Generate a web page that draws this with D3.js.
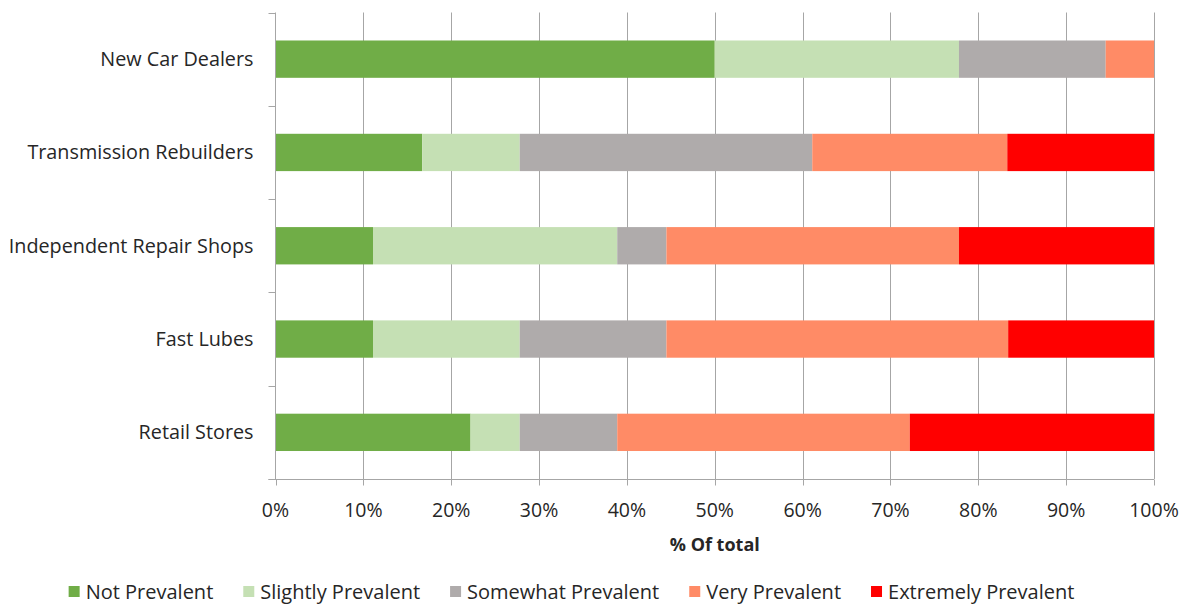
<!DOCTYPE html>
<html><head><meta charset="utf-8">
<script src="https://cdn.jsdelivr.net/npm/d3@7"></script>
<style>body{margin:0;background:#fff;} text{font-family:"Open Sans","Noto Sans",sans-serif;fill:#262626;}</style>
</head><body><svg id="c" width="1188" height="604"></svg>
<script>
const categories = ["New Car Dealers","Transmission Rebuilders","Independent Repair Shops","Fast Lubes","Retail Stores"];
const seriesNames = ["Not Prevalent","Slightly Prevalent","Somewhat Prevalent","Very Prevalent","Extremely Prevalent"];
const notPrevalent = [50.0, 16.7, 11.1, 11.1, 22.2];
const slightlyPrevalent = [27.8, 11.1, 27.8, 16.7, 5.6];
const somewhatPrevalent = [16.7, 33.3, 5.6, 16.7, 11.1];
const veryPrevalent = [5.5, 22.2, 33.3, 38.9, 33.3];
const extremelyPrevalent = [0, 16.7, 22.2, 16.6, 27.8];
const xTicks = [0,10,20,30,40,50,60,70,80,90,100];
const colors = ["#70AD47","#C5E0B4","#AFABAB","#FF8B66","#FF0000"];

const seriesVals = [notPrevalent, slightlyPrevalent, somewhatPrevalent, veryPrevalent, extremelyPrevalent];
const rows = categories.map((c,i)=>{const o={cat:c}; seriesNames.forEach((s,j)=>o[s]=seriesVals[j][i]); return o;});
const stack = d3.stack().keys(seriesNames).offset(d3.stackOffsetExpand)(rows);

const svg = d3.select("#c");
const L=275.5, R=1154, T=12.5, B=479;
const x = d3.scaleLinear().domain([0,1]).range([L,R]);
const y = d3.scaleBand().domain(categories).range([T,B]).paddingInner(0.6).paddingOuter(0.3);
const yb = d3.scaleBand().domain(categories).range([T,B]);

svg.append("g").selectAll("line").data(xTicks.slice(1)).join("line")
  .attr("x1",d=>Math.round(x(d/100))+0.5).attr("x2",d=>Math.round(x(d/100))+0.5)
  .attr("y1",T).attr("y2",B).attr("stroke","#A6A6A6").attr("stroke-width",1);

const g = svg.append("g");
stack.forEach((s,j)=>{
  g.selectAll(null).data(s).join("rect")
    .attr("x",d=>x(d[0])).attr("width",d=>Math.max(0,x(d[1])-x(d[0])))
    .attr("y",d=>y(d.data.cat)).attr("height",y.bandwidth())
    .attr("fill",colors[j]);
});

const yAxis = svg.append("g").attr("transform",`translate(${L},0)`);
yAxis.append("line").attr("x1",0).attr("x2",0).attr("y1",T).attr("y2",B).attr("stroke","#A6A6A6");
const bounds = categories.map(c=>yb(c)).concat([B]);
yAxis.selectAll(".tk").data(bounds).join("line").attr("x1",-7).attr("x2",0)
  .attr("y1",d=>Math.round(d)+0.5).attr("y2",d=>Math.round(d)+0.5).attr("stroke","#A6A6A6");
yAxis.selectAll("text").data(categories).join("text")
  .attr("x",-22).attr("y",d=>yb(d)+yb.bandwidth()/2).attr("dy","0.35em")
  .attr("text-anchor","end").attr("font-size",19.8).text(d=>d);

const xAxis = svg.append("g").attr("transform",`translate(0,${B+0.5})`);
xAxis.append("line").attr("x1",L-7).attr("x2",R).attr("stroke","#A6A6A6");
xAxis.selectAll(".tk").data(xTicks).join("line")
  .attr("x1",d=>Math.round(x(d/100))+0.5).attr("x2",d=>Math.round(x(d/100))+0.5)
  .attr("y1",0).attr("y2",6).attr("stroke","#A6A6A6");
xAxis.selectAll("text").data(xTicks).join("text")
  .attr("x",d=>x(d/100)).attr("y",37.5).attr("text-anchor","middle").attr("font-size",19.5).text(d=>d+"%");

svg.append("text").attr("x",(L+R)/2).attr("y",551).attr("text-anchor","middle")
  .attr("font-size",18).attr("font-weight","bold").text("% Of total");

const lg = svg.append("g");
const items=[];
seriesNames.forEach((s,j)=>{
  const it = lg.append("g");
  it.append("rect").attr("x",0).attr("y",-6).attr("width",11).attr("height",11).attr("fill",colors[j]);
  const t = it.append("text").attr("x",17).attr("y",0).attr("dy","0.35em").attr("font-size",20).text(s);
  const w = 17 + t.node().getComputedTextLength();
  items.push({it,w});
});
const gap = 30;
const total = d3.sum(items,d=>d.w) + gap*(items.length-1);
let start = 571.5 - total/2;
items.forEach(d=>{d.it.attr("transform",`translate(${start},592)`); start += d.w + gap;});
</script></body></html>
